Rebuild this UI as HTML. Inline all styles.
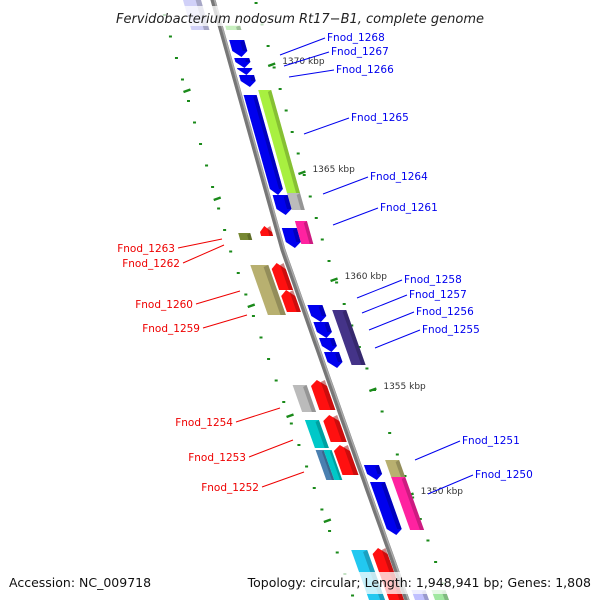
<!DOCTYPE html>
<html><head><meta charset="utf-8">
<style>
body{margin:0;background:#fff}
svg{display:block}
text{font-family:"DejaVu Sans","Liberation Sans",sans-serif}
</style></head>
<body>
<svg id="c" width="600" height="600" viewBox="0 0 600 600">
<rect width="600" height="600" fill="#fff"/>
<g id="ticks"></g>
<g id="genes"></g>
<polyline id="backbone" fill="none" stroke="#777" stroke-width="5"/>
<polyline id="backbone2" fill="none" stroke="#aaa" stroke-width="1.5"/>
<g id="labels"></g>
<rect x="100" y="6" width="400" height="20" fill="#fff" opacity="0.75"/>
<text x="300" y="23" text-anchor="middle" font-size="13" font-style="italic" fill="#222">Fervidobacterium nodosum Rt17−B1, complete genome</text>
<rect x="0" y="572" width="600" height="22" fill="#fff" opacity="0.75"/>
<text x="9" y="587" font-size="12.5" fill="#111">Accession: NC_009718</text>
<text x="591" y="587" text-anchor="end" font-size="12.5" fill="#111">Topology: circular; Length: 1,948,941 bp; Genes: 1,808</text>
</svg>
<script>
// gene data: [yStart, yEnd, innerOffset, outerOffset, color, strand]
const geneStart=[-5,25,40,58,68,75,95,90,193,195,228,221,233,226,265,263,290,305,322,338,352,310,385,380,420,415,450,450,445,465,460,482,477,550,548,590,590];
const geneEnd  =[30,30,57,68,75,87,195,193,210,215,248,244,240,236,315,290,312,322,338,352,368,365,412,410,448,442,480,480,475,480,478,535,530,610,610,610,610];
const geneIn   =[-30,5,5,5,5,5,4,20,20,5,5,20,-40,-18,-38,-18,-18,5,5,5,5,28,-38,-20,-38,-20,-38,-30,-20,5,28,5,28,-38,-18,8,28];
const geneOut  =[-12,20,20,20,20,20,17,33,33,20,20,32,-28,-6,-20,-4,-4,20,20,20,20,42,-24,-4,-24,-4,-30,-22,-4,20,42,20,42,-22,-3,22,42];
const geneColor=["#d0d0f8","#c8f0c0","#0000ee","#0000ee","#0000ee","#0000ee","#0000ee","#a8f040","#bbbbbb","#0000ee","#0000ee","#ff22a0","#778833","#ff1010","#b8b070","#ff1010","#ff1010","#0000ee","#0000ee","#0000ee","#0000ee","#443388","#bbbbbb","#ff1010","#00c8c8","#ff1010","#4a80b0","#00c8c8","#ff1010","#0000ee","#b8b070","#0000ee","#ff22a0","#22c8f0","#ff1010","#c0c0ff","#a0e8a0"];
const geneStrand=[0,0,1,1,1,1,1,0,0,1,1,0,0,-1,0,-1,-1,1,1,1,1,0,0,-1,0,-1,0,0,-1,1,0,1,0,0,-1,0,0];
// labels
const rightNames=["Fnod_1268","Fnod_1267","Fnod_1266","Fnod_1265","Fnod_1264","Fnod_1261","Fnod_1258","Fnod_1257","Fnod_1256","Fnod_1255","Fnod_1251","Fnod_1250"];
const rightTextX=[327,331,336,351,370,380,404,409,416,422,462,475];
const rightTextY=[41,55,73,121,180,211,283,298,315,333,444,478];
const rightAnchorY=[55,66,77,134,194,225,298,313,330,348,460,494];
const leftNames=["Fnod_1263","Fnod_1262","Fnod_1260","Fnod_1259","Fnod_1254","Fnod_1253","Fnod_1252"];
const leftTextX=[175,180,193,200,233,246,259];
const leftTextY=[252,267,308,332,426,461,491];
const leftAnchorX=[222,224,240,247,280,293,304];
const leftAnchorY=[239,245,291,315,408,440,472];
const kbpLabels=["1370 kbp","1365 kbp","1360 kbp","1355 kbp","1350 kbp"];
const kbpY=[65,173,280,390,495];

const NS="http://www.w3.org/2000/svg";
const pts=[[0,213],[250,283],[440,350],[600,407]];
function lx(y){
  if(y<=pts[0][0]) return pts[0][1]+(y-pts[0][0])*0.28;
  for(let i=0;i<pts.length-1;i++){const a=pts[i],b=pts[i+1];
    if(y<=b[0]) return a[1]+(y-a[0])*(b[1]-a[1])/(b[0]-a[0]);}
  return pts[3][1]+(y-600)*0.356;
}
function mk(tag,attrs,parent){const e=document.createElementNS(NS,tag);for(const k in attrs)e.setAttribute(k,attrs[k]);parent.appendChild(e);return e;}
const bb=[];for(let y=-10;y<=610;y+=10)bb.push((lx(y)).toFixed(1)+","+y);
document.getElementById('backbone').setAttribute('points',bb.join(' '));
document.getElementById('backbone2').setAttribute('points',bb.map(p=>{const[a,b]=p.split(',');return (+a+1.5)+","+b}).join(' '));

const G=document.getElementById('genes');
function shade(c){const n=parseInt(c.slice(1),16);let r=(n>>16)*0.6,g=((n>>8)&255)*0.6,b=(n&255)*0.6;return `rgb(${r|0},${g|0},${b|0})`;}
for(let i=0;i<geneStart.length;i++){
  const y0=geneStart[i],y1=geneEnd[i],o0=geneIn[i],o1=geneOut[i],s=geneStrand[i];
  const mid=(o0+o1)/2,t=6;let P;
  if(s===1){P=[[o0,y0],[o1,y0],[o1,y1-t],[mid,y1],[o0,y1-t]];}
  else if(s===-1){P=[[o0,y0+t],[mid,y0],[o1,y0+t],[o1,y1],[o0,y1]];}
  else P=[[o0,y0],[o1,y0],[o1,y1],[o0,y1]];
  const p=mk('polygon',{points:P.map(q=>(lx(q[1])+q[0]).toFixed(1)+","+q[1]).join(' '),fill:geneColor[i]},G);
  
  
  const w=(o1-o0)*0.3;
  const S=[[o1-w,y0+2],[o1,y0],[o1,s===1?y1-t:y1],[o1-w,(s===1?y1-t:y1)]];
  const sp=mk('polygon',{points:S.map(q=>(lx(q[1])+q[0]).toFixed(1)+","+q[1]).join(' '),fill:shade(geneColor[i]),opacity:0.5},G);
  
  
}
const T=document.getElementById('ticks');
for(let y=2;y<600;y+=21.5){
  const a=mk('rect',{x:lx(y)+41,y:y,width:3,height:2,fill:"#1a8a1a"},T);
  
  
  const b=mk('rect',{x:lx(y+12)-54,y:y+12,width:3,height:2,fill:"#1a8a1a"},T);
  
  
}
for(let i=0;i<kbpY.length;i++){
  const y=kbpY[i],x=lx(y)+40;
  const l=mk('line',{x1:x-3,y1:y+1,x2:x+4,y2:y-1.5,stroke:"#1a8a1a","stroke-width":2.5},T);
  
  
  const t=mk('text',{x:x+11,y:y-1,"font-size":9,fill:"#333"},T);t.textContent=kbpLabels[i];
  
  
  const y2=y+26,x2=lx(y2)-52;
  const l2=mk('line',{x1:x2-3,y1:y2+1,x2:x2+4,y2:y2-1.5,stroke:"#1a8a1a","stroke-width":2.5},T);
  
  
}
const L=document.getElementById('labels');
for(let i=0;i<rightNames.length;i++){
  const y=rightAnchorY[i],x=lx(y)+45;
  const l=mk('line',{x1:rightTextX[i]-47,y1:y,x2:rightTextX[i]-2,y2:rightTextY[i]-3,stroke:"#0000ee","stroke-width":1},L);
  
  
  const t=mk('text',{x:rightTextX[i],y:rightTextY[i],"font-size":10.5,fill:"#0000ee"},L);t.textContent=rightNames[i];
  
  
}
for(let i=0;i<leftNames.length;i++){
  const l=mk('line',{x1:leftTextX[i]+3,y1:leftTextY[i]-4,x2:leftAnchorX[i],y2:leftAnchorY[i],stroke:"#ee0000","stroke-width":1},L);
  
  
  const t=mk('text',{x:leftTextX[i],y:leftTextY[i],"font-size":10.5,fill:"#ee0000","text-anchor":"end"},L);t.textContent=leftNames[i];
  
  
}
</script>
</body></html>
